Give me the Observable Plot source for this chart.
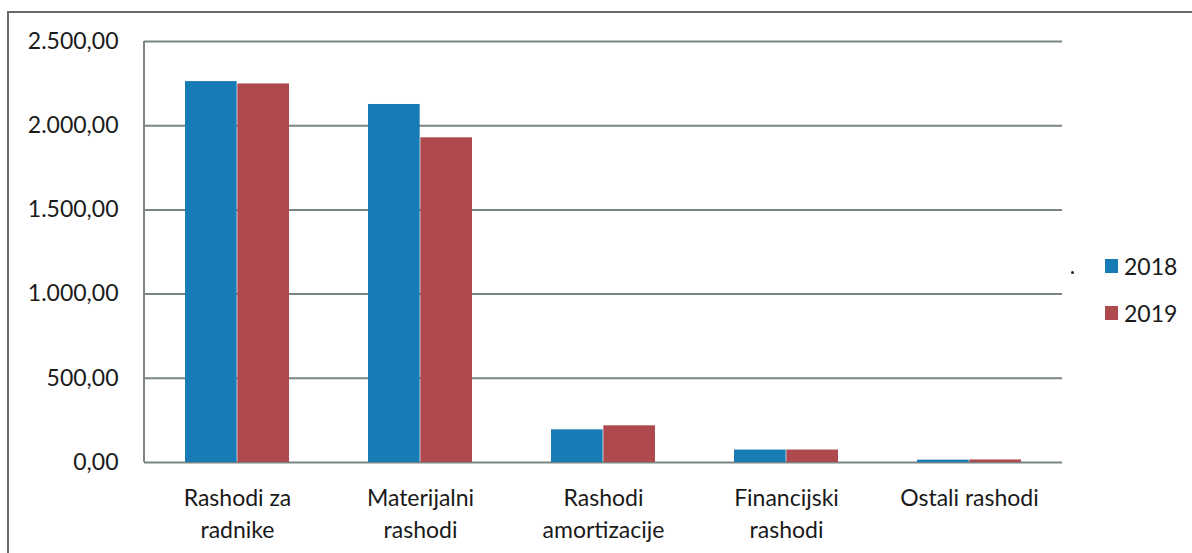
<!DOCTYPE html>
<html><head><meta charset="utf-8">
<script src="https://cdn.jsdelivr.net/npm/d3@7"></script>
<script src="https://cdn.jsdelivr.net/npm/@observablehq/plot@0.6"></script>
<style>
body{margin:0;background:#fff;}
#wrap{position:relative;width:1192px;height:553px;overflow:hidden;font-family:Lato, "Open Sans", sans-serif;color:#1a1a1a;}
#border{position:absolute;left:7px;top:11px;width:1400px;height:800px;border-left:2px solid #6a6a6a;border-top:2px solid #6a6a6a;}
#chart{position:absolute;left:0;top:0;}
.leg{position:absolute;left:1105px;display:flex;align-items:center;font-size:23px;}
.sw{width:13px;height:14px;margin-right:6px;}
#dot{position:absolute;left:1071px;top:271px;width:3px;height:3px;border-radius:50%;background:#222;}
</style></head>
<body>
<div id="wrap"><div id="border"></div><div id="chart"></div><div id="dot"></div></div>
<script>
const categories = ["Rashodi za\nradnike", "Materijalni\nrashodi", "Rashodi\namortizacije", "Financijski\nrashodi", "Ostali rashodi"];
const years = ["2018", "2019"];
const values2018 = [2262, 2126, 194, 74, 14];
const values2019 = [2248, 1928, 218, 74, 15];
const yTicks = [0, 500, 1000, 1500, 2000, 2500];
const colors = ["#177cb5", "#ae494e"];

const data = categories.flatMap((c, i) => [
  {category: c, year: years[0], value: values2018[i]},
  {category: c, year: years[1], value: values2019[i]}
]);

const W = 1192, H = 553, mL = 144, mR = 130, mT = 41, mB = 91;
const padIn = 0.43;
const step = (W - mL - mR) / categories.length;
const half = step * (1 - padIn) / 2;

const loc = d3.formatLocale({decimal: ",", thousands: ".", grouping: [3], currency: ["", ""]});
const fmt = loc.format(",.2f");

const leftLine = (index, scales, values, dims) => {
  const x = dims.marginLeft;
  return d3.create("svg:line")
    .attr("x1", x).attr("x2", x)
    .attr("y1", scales.y(yTicks[yTicks.length - 1])).attr("y2", scales.y(0))
    .attr("stroke", "#7a8483").attr("stroke-width", 2).node();
};

const chart = Plot.plot({
  width: W, height: H,
  marginLeft: mL, marginRight: mR, marginTop: mT, marginBottom: mB,
  style: {fontFamily: "Lato, 'Open Sans', sans-serif", fontSize: "23px", color: "#1a1a1a", background: "transparent", overflow: "visible"},
  x: {domain: categories, paddingInner: padIn, paddingOuter: padIn / 2, axis: null},
  y: {domain: [0, 2500], axis: null},
  color: {domain: years, range: colors},
  marks: [
    Plot.ruleY(yTicks, {stroke: "#7a8483", strokeWidth: 2, strokeOpacity: 1}),
    leftLine,
    Plot.barY(data.filter(d => d.year === years[0]), {x: "category", y: "value", fill: "year", insetRight: half}),
    Plot.barY(data.filter(d => d.year === years[1]), {x: "category", y: "value", fill: "year", insetLeft: half}),
    Plot.axisY({ticks: yTicks, tickSize: 0, tickPadding: 26, tickFormat: fmt, fontSize: 23, fill: "#1a1a1a", label: null}),
    Plot.axisX({tickSize: 0, tickPadding: 21, fontSize: 23, lineHeight: 1.38, fill: "#1a1a1a", label: null})
  ]
});
document.getElementById("chart").appendChild(chart);

const wrap = document.getElementById("wrap");
const legTops = [252, 299];
years.forEach((y, i) => {
  const d = document.createElement("div");
  d.className = "leg";
  d.style.top = legTops[i] + "px";
  d.innerHTML = `<div class="sw" style="background:${colors[i]}"></div><span>${y}</span>`;
  wrap.appendChild(d);
});
</script>
</body></html>
